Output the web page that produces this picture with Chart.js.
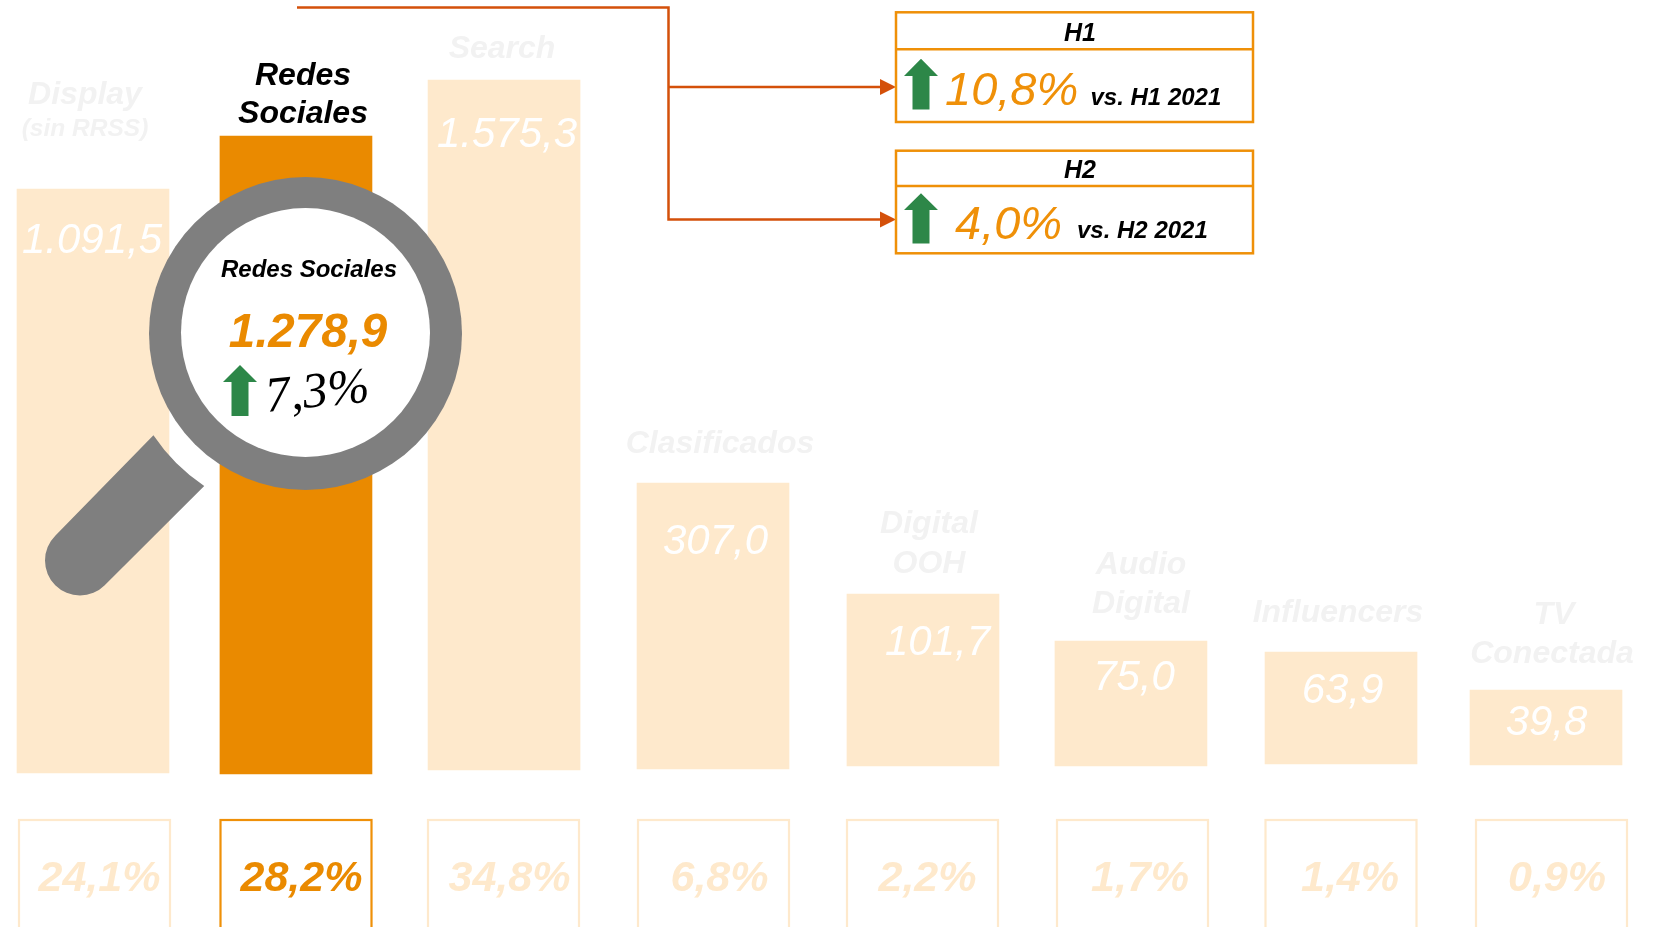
<!DOCTYPE html>
<html lang="es">
<head>
<meta charset="utf-8">
<title>Redes Sociales</title>
<script src="https://cdn.jsdelivr.net/npm/chart.js@4"></script>
<style>
  html, body { margin: 0; padding: 0; background: #fff; overflow: hidden; }
  canvas { display: block; }
</style>
</head>
<body>
<canvas id="myChart" width="1653" height="927"></canvas>
<script>
const categories = [['Display', '(sin RRSS)'], ['Redes', 'Sociales'], ['Search'], ['Clasificados'],
  ['Digital', 'OOH'], ['Audio', 'Digital'], ['Influencers'], ['TV', 'Conectada']];
const values = [1091.5, 1278.9, 1575.3, 307.0, 101.7, 75.0, 63.9, 39.8];
const shares = [24.1, 28.2, 34.8, 6.8, 2.2, 1.7, 1.4, 0.9];
const highlightIndex = 1;
const totalGrowth = '7,3%';
const halves = ['H1', 'H2'];
const halfGrowth = ['10,8%', '4,0%'];
const halfCompare = ['vs. H1 2021', 'vs. H2 2021'];

const PALE = '#fee9cc';
const ORANGE = '#ea8a00';
const BOX_ORANGE = '#ef9008';
const LABEL_GREY = '#f2f2f2';
const GREY = '#7f7f7f';
const GREEN = '#2d8748';
const LINE_RED = '#d4500a';
const SANS = '"Liberation Sans", Arial, sans-serif';
const SERIF = '"Liberation Serif", "Times New Roman", serif';

// The source bars are not to scale, so the value axis bends at these points
const axisValues = [0, 39.8, 63.9, 75.0, 101.7, 307.0, 1091.5, 1278.9, 1575.3];
const axisRise = [0, 76, 114, 125, 172, 283, 577, 630, 686];

class BentScale extends Chart.LinearScale {
  static id = 'bent';
  static defaults = Chart.LinearScale.defaults;

  getPixelForValue(value) {
    let i = 1;
    while (i < axisValues.length - 1 && value > axisValues[i]) i++;
    const t = (value - axisValues[i - 1]) / (axisValues[i] - axisValues[i - 1]);
    return this.bottom - (axisRise[i - 1] + t * (axisRise[i] - axisRise[i - 1]));
  }
}
Chart.register(BentScale);

// Bars in the source are hand placed, slightly off an even grid
const barShiftX = [0, -4.6, -4.1, -2.7, -0.3, 0.1, 2.6, 0];
const barShiftBase = [7, 8, 4, 3, 0, 0, -2, -1];

// Text anchors [centre x, baseline y] per line
const labelAnchors = [
  [[85, 104], [85, 136]], [[303, 85], [303, 123]], [[502, 58]], [[720, 453]],
  [[929, 533], [929, 573]], [[1141, 574], [1141, 613]], [[1338, 622]], [[1554, 624], [1552, 663]]
];
const valueAnchors = [[92, 253], null, [507, 147], [715.5, 554], [937.5, 655], [1134, 690], [1342.5, 703], [1546.5, 735]];
const shareCentres = [99.5, 301.5, 509.5, 719.5, 927.5, 1140, 1350, 1557];
const shareBoxLeft = [19, 220.5, 428, 638, 847, 1057, 1265.5, 1476];

function formatValue(v) {
  return v.toFixed(1).replace('.', ',').replace(/\B(?=(\d{3})(?!\d))/g, '.');
}

function drawText(ctx, text, x, y, font, color, align) {
  ctx.font = font;
  ctx.fillStyle = color;
  ctx.textAlign = align || 'center';
  ctx.textBaseline = 'alphabetic';
  ctx.fillText(text, x, y);
}

function drawUpArrow(ctx, cx, tip, neck, bottom, headHalf, shaftHalf) {
  ctx.fillStyle = GREEN;
  ctx.beginPath();
  ctx.moveTo(cx, tip);
  ctx.lineTo(cx + headHalf, neck);
  ctx.lineTo(cx + shaftHalf, neck);
  ctx.lineTo(cx + shaftHalf, bottom);
  ctx.lineTo(cx - shaftHalf, bottom);
  ctx.lineTo(cx - shaftHalf, neck);
  ctx.lineTo(cx - headHalf, neck);
  ctx.closePath();
  ctx.fill();
}

function drawMagnifier(ctx) {
  const cx = 305.5, cy = 333.5;
  ctx.fillStyle = GREY;
  ctx.beginPath();
  ctx.arc(cx, cy, 183, 146.2 * Math.PI / 180, 123.6 * Math.PI / 180, true);
  ctx.lineTo(104.7, 585.2);
  ctx.arc(80, 560.5, 35, Math.PI / 4, 5 * Math.PI / 4);
  ctx.closePath();
  ctx.fill();

  ctx.beginPath();
  ctx.arc(cx, cy, 156.5, 0, Math.PI * 2);
  ctx.fill();
  ctx.fillStyle = '#fff';
  ctx.beginPath();
  ctx.arc(cx, cy - 1, 124.5, 0, Math.PI * 2);
  ctx.fill();

  drawText(ctx, categories[highlightIndex].join(' '), 309, 277, `italic bold 24px ${SANS}`, '#000');
  drawText(ctx, formatValue(values[highlightIndex]), 308, 347, `italic bold 47.5px ${SANS}`, ORANGE);
  drawUpArrow(ctx, 240, 365, 382, 416, 17, 8.5);

  ctx.save();
  ctx.translate(267, 412);
  ctx.rotate(-6 * Math.PI / 180);
  drawText(ctx, totalGrowth, 0, 0, `italic 50px ${SERIF}`, '#000', 'left');
  ctx.restore();
}

function drawConnectors(ctx) {
  ctx.strokeStyle = LINE_RED;
  ctx.lineWidth = 2.5;
  ctx.beginPath();
  ctx.moveTo(297, 7.5);
  ctx.lineTo(668.5, 7.5);
  ctx.lineTo(668.5, 219.5);
  ctx.lineTo(882, 219.5);
  ctx.moveTo(668.5, 87);
  ctx.lineTo(882, 87);
  ctx.stroke();
  ctx.fillStyle = LINE_RED;
  [87, 219.5].forEach(y => {
    ctx.beginPath();
    ctx.moveTo(896, y);
    ctx.lineTo(880, y - 8);
    ctx.lineTo(880, y + 8);
    ctx.closePath();
    ctx.fill();
  });
}

function drawHalfBoxes(ctx) {
  const boxes = [
    { top: 12.3, mid: 49.3, bottom: 122, head: 40.5, textBase: 105, cmpBase: 104.5, textX: 945, cmpX: 1090.5, arrow: [58.7, 76, 109.5] },
    { top: 150.7, mid: 186, bottom: 253.3, head: 177.5, textBase: 238.5, cmpBase: 238, textX: 955, cmpX: 1077, arrow: [193.3, 210, 243.5] }
  ];
  boxes.forEach((b, i) => {
    ctx.strokeStyle = BOX_ORANGE;
    ctx.lineWidth = 2.5;
    ctx.strokeRect(896, b.top, 357, b.bottom - b.top);
    ctx.beginPath();
    ctx.moveTo(896, b.mid);
    ctx.lineTo(1253, b.mid);
    ctx.stroke();
    drawText(ctx, halves[i], 1080, b.head, `italic bold 25px ${SANS}`, '#000');
    drawUpArrow(ctx, 921, b.arrow[0], b.arrow[1], b.arrow[2], 17, 8.5);
    drawText(ctx, halfGrowth[i], b.textX, b.textBase, `italic 47px ${SANS}`, BOX_ORANGE, 'left');
    drawText(ctx, halfCompare[i], b.cmpX, b.cmpBase, `italic bold 24px ${SANS}`, '#000', 'left');
  });
}

const barShiftPlugin = {
  id: 'barShift',
  afterDatasetsUpdate(chart) {
    chart.getDatasetMeta(0).data.forEach((bar, i) => {
      bar.x += barShiftX[i];
      bar.base += barShiftBase[i];
    });
  }
};

const annotationPlugin = {
  id: 'annotations',
  afterDatasetsDraw(chart) {
    const ctx = chart.ctx;
    ctx.save();

    categories.forEach((lines, i) => {
      lines.forEach((line, j) => {
        const [x, y] = labelAnchors[i][j];
        const color = i === highlightIndex ? '#000' : LABEL_GREY;
        const size = i === 0 && j === 1 ? 24.5 : 32;
        drawText(ctx, line, x, y, `italic bold ${size}px ${SANS}`, color);
      });
    });

    values.forEach((v, i) => {
      if (!valueAnchors[i]) return;
      drawText(ctx, formatValue(v), valueAnchors[i][0], valueAnchors[i][1], `italic 42px ${SANS}`, '#fff');
    });

    shares.forEach((s, i) => {
      const color = i === highlightIndex ? ORANGE : PALE;
      ctx.strokeStyle = i === highlightIndex ? BOX_ORANGE : PALE;
      ctx.lineWidth = 2.2;
      ctx.strokeRect(shareBoxLeft[i], 820, 151, 130);
      drawText(ctx, s.toFixed(1).replace('.', ',') + '%', shareCentres[i], 891, `italic bold 43px ${SANS}`, color);
    });

    drawMagnifier(ctx);
    drawConnectors(ctx);
    drawHalfBoxes(ctx);
    ctx.restore();
  }
};

new Chart(document.getElementById('myChart').getContext('2d'), {
  type: 'bar',
  data: {
    labels: categories,
    datasets: [{
      label: 'Redes Sociales',
      data: values,
      backgroundColor: values.map((v, i) => i === highlightIndex ? ORANGE : PALE),
      barThickness: 152,
      clip: false
    }]
  },
  options: {
    responsive: false,
    animation: false,
    layout: { padding: { left: 93, right: 107, top: 60, bottom: 161 } },
    plugins: { legend: { display: false }, tooltip: { enabled: false } },
    scales: {
      x: { display: false, offset: false, grid: { display: false } },
      y: { type: 'bent', display: false, min: 0, max: 1600, grid: { display: false } }
    }
  },
  plugins: [barShiftPlugin, annotationPlugin]
});
</script>
</body>
</html>
